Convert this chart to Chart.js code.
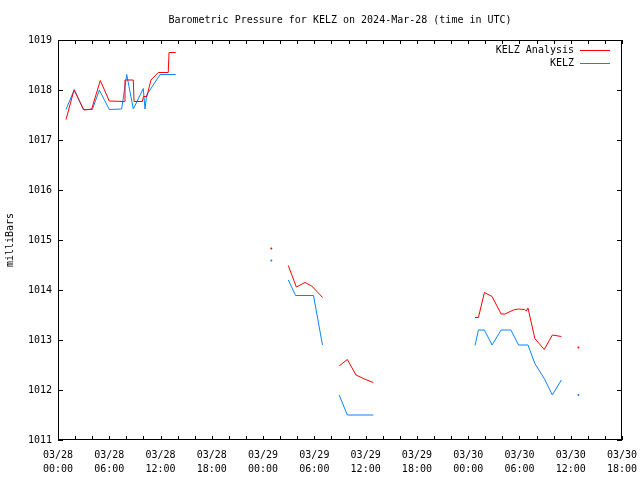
<!DOCTYPE html>
<html lang="en">
<head>
    <meta charset="UTF-8">
    <title>Barometric Pressure for KELZ</title>
    <script src="https://cdn.jsdelivr.net/npm/chart.js"></script>
    <style>
        html, body { margin: 0; padding: 0; background: #fff; }
        #wrap { width: 640px; height: 480px; }
    </style>
</head>
<body>
    <div id="wrap"><canvas id="pressure-chart" width="640" height="480"></canvas></div>
    <script>
        // hours since 03/28 00:00 UTC, null = gap in the record
        const anaHours = [0.94, 1.87, 3.04, 3.94, 4.95, 6.0, 7.76, 7.84, 8.81, 8.9, 9.87, 10.0, 10.4, 10.88, 11.74, 12.9, 12.99, 13.77,
            19.0, 24.96, 26.0,
            26.95, 27.89, 28.9, 29.69, 30.97, 32.0,
            32.9, 33.86, 34.87, 35.85, 36.9, 42.0,
            48.8, 49.2, 49.9, 50.8, 51.85, 52.3, 53.3, 53.9, 54.6, 54.8, 55.0, 55.8, 56.9, 57.85, 58.9,
            60.0, 60.9];
        const anaMb = [1017.41, 1018.0, 1017.6, 1017.62, 1018.19, 1017.78, 1017.77, 1018.2, 1018.2, 1017.77, 1017.77, 1017.87, 1017.87, 1018.2, 1018.35, 1018.35, 1018.75, 1018.75,
            null, 1014.83, null,
            1014.49, 1014.06, 1014.15, 1014.08, 1013.85, null,
            1012.48, 1012.61, 1012.3, 1012.22, 1012.15, null,
            1013.45, 1013.45, 1013.95, 1013.87, 1013.52, 1013.52, 1013.6, 1013.62, 1013.61, 1013.58, 1013.64, 1013.03, 1012.81, 1013.1, 1013.07,
            null, 1012.85];

        const obsHours = [0.94, 1.91, 2.96, 4.02, 4.84, 6.0, 7.45, 8.04, 8.81, 9.98, 10.18, 10.38, 11.94, 13.77,
            19.0, 24.96, 26.0,
            26.95, 27.8, 29.9, 30.95, 32.0,
            32.9, 33.86, 36.9, 42.0,
            48.8, 49.2, 49.9, 50.8, 51.85, 53.0, 53.9, 55.0, 55.8, 56.9, 57.85, 58.9,
            60.0, 60.9];
        const obsMb = [1017.61, 1018.01, 1017.61, 1017.61, 1018.0, 1017.61, 1017.62, 1018.31, 1017.62, 1018.03, 1017.62, 1017.9, 1018.31, 1018.31,
            null, 1014.59, null,
            1014.2, 1013.89, 1013.89, 1012.9, null,
            1011.9, 1011.5, 1011.5, null,
            1012.89, 1013.2, 1013.2, 1012.9, 1013.2, 1013.2, 1012.9, 1012.9, 1012.53, 1012.23, 1011.9, 1012.2,
            null, 1011.9];

        const seriesNames = ['KELZ Analysis', 'KELZ'];
        const titleText = 'Barometric Pressure for KELZ on 2024-Mar-28 (time in UTC)';
        const yTitle = 'milliBars';
        const xMax = 66;   // 03/30 18:00
        const yMin = 1011, yMax = 1019;

        const FONT = "'DejaVu Sans Mono', 'Liberation Mono', monospace";

        function toPoints(hours, mb) {
            return hours.map((h, i) => ({ x: h, y: mb[i] }));
        }

        // a lone reading between two gaps gets a dot, everything else is line only
        function loneDot(ctx) {
            const d = ctx.dataset.data, i = ctx.dataIndex;
            if (!d[i] || d[i].y === null) return 0;
            const prev = i > 0 ? d[i - 1].y : null;
            const next = i < d.length - 1 ? d[i + 1].y : null;
            return (prev === null && next === null) ? 1 : 0;
        }

        function tickLabel(v) {
            if (v % 6 !== 0) return '';
            const day = 28 + Math.floor(v / 24);
            const hh = String(v % 24).padStart(2, '0');
            return ['03/' + day, hh + ':00'];
        }

        // frame, inward tics, title and legend drawn gnuplot style
        const gnuplotFrame = {
            id: 'gnuplotFrame',
            afterDraw(chart) {
                const c = chart.ctx, a = chart.chartArea;
                const xs = chart.scales.x, ys = chart.scales.y;
                c.save();
                c.strokeStyle = '#000';
                c.lineWidth = 1;
                c.strokeRect(a.left + 0.5, a.top + 0.5, a.right - a.left - 1, a.bottom - a.top - 1);

                c.beginPath();
                for (let h = 0; h <= xMax; h += 2) {
                    const px = Math.round(xs.getPixelForValue(h)) + 0.5;
                    c.moveTo(px, a.bottom); c.lineTo(px, a.bottom - 4);
                    c.moveTo(px, a.top); c.lineTo(px, a.top + 4);
                }
                for (let p = yMin; p <= yMax; p++) {
                    const py = Math.round(ys.getPixelForValue(p)) + 0.5;
                    c.moveTo(a.left, py); c.lineTo(a.left + 5, py);
                    c.moveTo(a.right, py); c.lineTo(a.right - 5, py);
                }
                c.stroke();

                c.fillStyle = '#000';
                c.font = '10px ' + FONT;
                c.textAlign = 'center';
                c.textBaseline = 'middle';
                c.fillText(titleText, (a.left + a.right) / 2, 20);

                c.textAlign = 'right';
                chart.data.datasets.forEach((ds, i) => {
                    const y = 50 + i * 13;
                    c.fillStyle = '#000';
                    c.fillText(ds.label, 574, y);
                    c.strokeStyle = ds.borderColor;
                    c.beginPath();
                    c.moveTo(580, y + 0.5); c.lineTo(610, y + 0.5);
                    c.stroke();
                });
                c.restore();
            }
        };

        const ctx = document.getElementById('pressure-chart').getContext('2d');
        const pressureChart = new Chart(ctx, {
            type: 'line',
            data: {
                datasets: [{
                    label: seriesNames[0],
                    data: toPoints(anaHours, anaMb),
                    borderColor: '#ff0000',
                    backgroundColor: '#ff0000',
                    borderWidth: 1,
                    pointRadius: loneDot,
                    pointBorderWidth: 0,
                    spanGaps: false,
                    tension: 0
                }, {
                    label: seriesNames[1],
                    data: toPoints(obsHours, obsMb),
                    borderColor: '#0a84ff',
                    backgroundColor: '#0a84ff',
                    borderWidth: 1,
                    pointRadius: loneDot,
                    pointBorderWidth: 0,
                    spanGaps: false,
                    tension: 0
                }]
            },
            options: {
                responsive: false,
                animation: false,
                layout: { padding: { top: 40, right: 18, left: 0, bottom: 0 } },
                plugins: {
                    legend: { display: false },
                    title: { display: false },
                    tooltip: { enabled: false }
                },
                scales: {
                    x: {
                        type: 'linear',
                        min: 0,
                        max: xMax,
                        afterFit: (scale) => {
                            scale.height = 40;
                            scale.paddingLeft = 0;
                            scale.paddingRight = 0;
                        },
                        grid: { drawOnChartArea: false, drawTicks: false },
                        border: { display: false },
                        ticks: {
                            stepSize: 6,
                            autoSkip: false,
                            maxRotation: 0,
                            padding: 8,
                            color: '#000',
                            font: { family: FONT, size: 10, lineHeight: 1.4 },
                            callback: tickLabel
                        }
                    },
                    y: {
                        min: yMin,
                        max: yMax,
                        afterFit: (scale) => {
                            scale.width = 58;
                            scale.paddingTop = 0;
                            scale.paddingBottom = 0;
                        },
                        grid: { drawOnChartArea: false, drawTicks: false },
                        border: { display: false },
                        ticks: {
                            stepSize: 1,
                            padding: 6,
                            color: '#000',
                            font: { family: FONT, size: 10 },
                            callback: (v) => String(v)
                        },
                        title: {
                            display: true,
                            text: yTitle,
                            color: '#000',
                            padding: { top: 4, bottom: 0 },
                            font: { family: FONT, size: 10 }
                        }
                    }
                }
            },
            plugins: [gnuplotFrame]
        });
    </script>
</body>
</html>
